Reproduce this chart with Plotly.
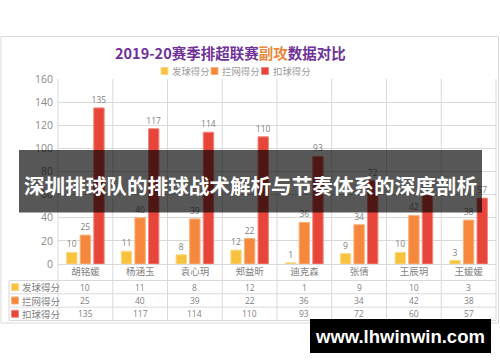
import plotly.graph_objects as go

# ---------------- data ----------------
players = ["胡铭媛", "杨涵玉", "袁心玥", "郑益昕", "迪克森", "张倩", "王辰玥", "王媛媛"]
serve_pts = [10, 11, 8, 12, 1, 9, 10, 3]
block_pts = [25, 40, 39, 22, 36, 34, 42, 38]
spike_pts = [135, 117, 114, 110, 93, 72, 60, 57]
series_names = ["发球得分", "拦网得分", "扣球得分"]
y_ticks = [0, 20, 40, 60, 80, 100, 120, 140, 160]
title_parts = ["2019-20赛季排超联赛", "副攻", "数据对比"]
banner_text = "深圳排球队的排球战术解析与节奏体系的深度剖析"
watermark_text = "www.lhwinwin.com"

series_values = [serve_pts, block_pts, spike_pts]
fills = ["#f8c23c", "#f5883c", "#e8453a"]
edges = ["#fbd98a", "#f9b27e", "#f3877c"]

# ---------------- geometry helpers (pixels -> paper) ----------------
PL, PR, PT, PB = 58, 496, 79, 264
PW, PH = PR - PL, PB - PT


def px(x):
    return (x - PL) / PW


def py(y):
    return (PB - y) / PH


CJK = "Noto Sans CJK SC"
NUM = "Open Sans, Noto Sans CJK SC"
GRAY = "#7f7f7f"
GRID = "#d9d9d9"

fig = go.Figure()
for name, vals, fc, ec in zip(series_names, series_values, fills, edges):
    fig.add_trace(go.Bar(
        x=players, y=vals, name=name,
        marker=dict(color=fc, line=dict(color=ec, width=1)),
        text=[str(v) for v in vals], textposition="outside", constraintext="none",
        textfont=dict(size=8.5, color=GRAY, family=NUM),
        cliponaxis=False, showlegend=False,
    ))

shapes = []
annotations = []

# outer frame
shapes.append(dict(type="rect", xref="paper", yref="paper",
                   x0=px(1), x1=px(498.5), y0=py(36.5), y1=py(323),
                   line=dict(color=GRID, width=1), layer="below"))

# vertical column separators (plot + table)
n = len(players)
for i in range(n + 1):
    shapes.append(dict(type="line", xref="paper", yref="paper",
                       x0=i / n, x1=i / n, y0=1, y1=py(320.5),
                       line=dict(color=GRID, width=1), layer="below"))

# table horizontal lines
row_lines = [280.5, 293.8, 307.1, 320.5]
for yy in row_lines:
    shapes.append(dict(type="line", xref="paper", yref="paper",
                       x0=px(9), x1=1, y0=py(yy), y1=py(yy),
                       line=dict(color=GRID, width=1), layer="below"))
shapes.append(dict(type="line", xref="paper", yref="paper",
                   x0=px(9), x1=px(9), y0=py(280.5), y1=py(320.5),
                   line=dict(color=GRID, width=1), layer="below"))

# table rows
row_centers = [287.2, 300.5, 313.8]
for r, (name, vals, fc, ec) in enumerate(zip(series_names, series_values, fills, edges)):
    yc = row_centers[r]
    shapes.append(dict(type="rect", xref="paper", yref="paper",
                       x0=px(11.5), x1=px(18.5), y0=py(yc - 3.5), y1=py(yc + 3.5),
                       fillcolor=fc, line=dict(color=ec, width=1)))
    annotations.append(dict(x=px(19.5), y=py(yc), xref="paper", yref="paper",
                            text=name, showarrow=False, xanchor="left", yanchor="middle",
                            font=dict(size=9.5, color=GRAY, family=CJK)))
    for p, v in zip(players, vals):
        annotations.append(dict(x=p, y=py(yc), xref="x", yref="paper",
                                text=str(v), showarrow=False, xanchor="center", yanchor="middle",
                                font=dict(size=8.5, color=GRAY, family=NUM)))

# top legend
leg_x = [161, 211, 261.5]
for name, fc, ec, lx in zip(series_names, fills, edges, leg_x):
    shapes.append(dict(type="rect", xref="paper", yref="paper",
                       x0=px(lx), x1=px(lx + 7), y0=py(67.5), y1=py(74.5),
                       fillcolor=fc, line=dict(color=ec, width=1)))
    annotations.append(dict(x=px(lx + 9), y=py(71), xref="paper", yref="paper",
                            text=name, showarrow=False, xanchor="left", yanchor="middle",
                            font=dict(size=9.4, color="#9a9a9a", family=CJK)))

# title
annotations.append(dict(
    x=px(230), y=py(52.5), xref="paper", yref="paper", showarrow=False,
    xanchor="center", yanchor="middle",
    text=("<b>" + title_parts[0] + "<span style='color:#e8893b'>" + title_parts[1]
          + "</span>" + title_parts[2] + "</b>"),
    font=dict(size=14.5, color="#6f3198", family=CJK)))

# dark banner overlay
shapes.append(dict(type="rect", xref="paper", yref="paper", layer="above",
                   x0=px(19), x1=px(482), y0=py(150), y1=py(212.5),
                   fillcolor="rgba(0,0,0,0.66)", line=dict(width=0)))
annotations.append(dict(x=px(250), y=py(185), xref="paper", yref="paper",
                        text="<b>" + banner_text + "</b>", showarrow=False,
                        xanchor="center", yanchor="middle",
                        font=dict(size=20.6, color="white", family=CJK)))

# watermark
shapes.append(dict(type="rect", xref="paper", yref="paper", layer="above",
                   x0=px(310), x1=px(491), y0=py(319), y1=py(353),
                   fillcolor="black", line=dict(width=0)))
annotations.append(dict(x=px(400), y=py(336), xref="paper", yref="paper",
                        text="<b>" + watermark_text + "</b>", showarrow=False,
                        xanchor="center", yanchor="middle",
                        font=dict(size=18.5, color="white", family="Liberation Sans, Arial")))

fig.update_layout(
    width=500, height=362,
    margin=dict(l=PL, r=500 - PR, t=PT, b=362 - PB, pad=0),
    paper_bgcolor="white", plot_bgcolor="white",
    barmode="group", bargap=0.255, bargroupgap=0.235,
    showlegend=False,
    shapes=shapes, annotations=annotations,
    xaxis=dict(type="category", range=[-0.5, n - 0.5], showgrid=False, zeroline=False,
               showline=False, ticks="", tickfont=dict(size=9.5, color=GRAY, family=CJK)),
    yaxis=dict(range=[0, 160], tickvals=y_ticks, showgrid=True, gridcolor=GRID, gridwidth=1,
               zeroline=True, zerolinecolor=GRID, zerolinewidth=1, showline=False, ticks="",
               ticklabelstandoff=4,
               tickfont=dict(size=10.5, color="#8a8a8a", family=NUM)),
)

fig.write_html("out.html",
               config={"displayModeBar": False},
               post_script="document.body.style.margin='0';document.body.style.overflow='hidden';")
